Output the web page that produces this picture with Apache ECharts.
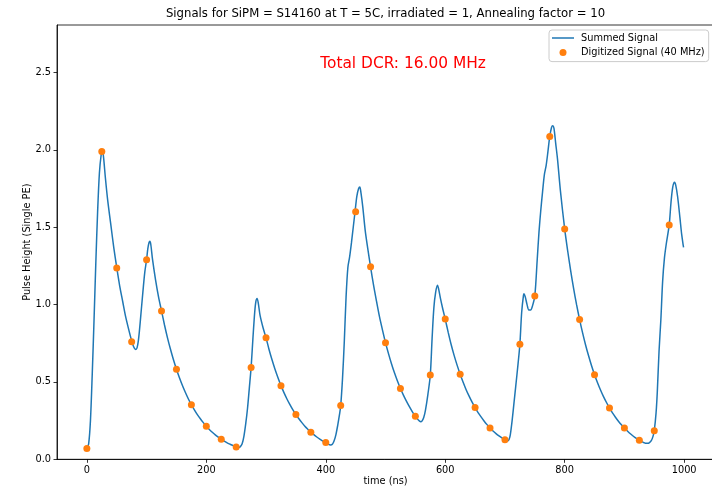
<!DOCTYPE html>
<html>
<head>
<meta charset="utf-8">
<script src="https://cdn.jsdelivr.net/npm/echarts@6/dist/echarts.min.js"></script>
<style>
  html, body { margin: 0; padding: 0; background: #fff; }
  #chart { width: 712px; height: 489px; }
</style>
</head>
<body>
<div id="chart"></div>
<script>
// Summed SiPM signal (ns, single-PE units)
const summedTime = [
  0, 3, 6, 9, 12, 15, 18, 21, 24, 26, 28, 31, 35, 40, 45, 50, 55, 60, 65, 70, 74, 77, 80, 82, 84, 86, 88, 91, 94, 97,
  100, 102, 104, 105.5, 107, 110, 115, 120, 125, 130, 135, 140, 145, 150, 155, 160, 165, 170, 175, 180, 185, 190, 195,
  200, 205, 210, 215, 220, 225, 230, 235, 240, 245, 250, 254, 257, 260, 263, 266, 269, 272, 275, 278, 281, 283, 285,
  287, 290, 295, 300, 305, 310, 315, 320, 325, 330, 335, 340, 345, 350, 355, 360, 365, 370, 375, 380, 385, 390, 395,
  400, 404, 408, 411, 414, 417, 420, 423, 425, 428, 431, 434, 437, 440, 443, 446, 449, 452, 455, 457, 459, 462, 466,
  470, 475, 480, 485, 490, 495, 500, 505, 510, 515, 520, 525, 530, 535, 540, 545, 550, 554, 557, 559, 561, 564, 567,
  571, 575, 578, 581, 584, 587, 589, 592, 596, 600, 605, 610, 615, 620, 625, 630, 635, 640, 645, 650, 655, 660, 665,
  670, 675, 680, 685, 690, 695, 700, 703, 705, 707, 709, 712, 715, 718, 722, 725, 728, 731, 732, 734, 737, 740, 743,
  746, 750, 754, 757, 760, 763, 766, 769, 772, 775, 778, 780, 782, 785, 788, 793, 800, 805, 810, 815, 820, 825, 830,
  835, 840, 845, 850, 855, 860, 865, 870, 875, 880, 885, 890, 895, 900, 905, 910, 915, 920, 925, 929, 933, 936, 939,
  942, 945, 948, 950, 953, 955, 958, 961, 964, 967, 970, 975, 978, 981, 984, 986, 989, 993, 996, 999
];
const summedValue = [
  0.07, 0.10, 0.25, 0.55, 0.90, 1.27, 1.60, 1.85, 1.97, 2.00, 1.95, 1.82, 1.67, 1.52, 1.37, 1.24, 1.12, 1.02, 0.92, 0.84, 0.78, 0.74, 0.715, 0.71, 0.72, 0.76, 0.83, 0.96, 1.09, 1.21,
  1.29, 1.36, 1.40, 1.41, 1.39, 1.29, 1.16, 1.05, 0.959, 0.868, 0.785, 0.711, 0.643, 0.582, 0.527, 0.477, 0.432, 0.39, 0.353, 0.32, 0.289, 0.262, 0.237,
  0.213, 0.193, 0.175, 0.158, 0.143, 0.129, 0.117, 0.106, 0.097, 0.088, 0.080, 0.077, 0.082, 0.10, 0.15, 0.23, 0.33, 0.46, 0.594, 0.78, 0.95, 1.02, 1.04,
  1.01, 0.93, 0.85, 0.785, 0.71, 0.643, 0.582, 0.527, 0.476, 0.431, 0.39, 0.353, 0.319, 0.289, 0.262, 0.237, 0.214, 0.194, 0.175, 0.159, 0.144, 0.130, 0.118,
  0.108, 0.098, 0.093, 0.097, 0.12, 0.16, 0.22, 0.29, 0.347, 0.52, 0.76, 1.05, 1.24, 1.31, 1.40, 1.50, 1.60, 1.70, 1.75, 1.76, 1.72, 1.63, 1.48,
  1.37, 1.244, 1.125, 1.02, 0.92, 0.835, 0.754, 0.683, 0.618, 0.559, 0.506, 0.458, 0.415, 0.376, 0.34, 0.307, 0.278, 0.258, 0.247, 0.243, 0.247, 0.27, 0.32,
  0.42, 0.545, 0.78, 0.98, 1.08, 1.125, 1.10, 1.04, 0.97, 0.906, 0.82, 0.74, 0.67, 0.607, 0.550, 0.498, 0.45, 0.408, 0.369, 0.334, 0.302, 0.274, 0.248,
  0.224, 0.202, 0.183, 0.166, 0.151, 0.138, 0.127, 0.121, 0.12, 0.13, 0.16, 0.25, 0.36, 0.47, 0.62, 0.744, 0.95, 1.06, 1.07, 1.05, 1.00, 0.965, 0.965,
  0.99, 1.056, 1.29, 1.47, 1.61, 1.73, 1.84, 1.90, 1.99, 2.087, 2.145, 2.156, 2.14, 2.04, 1.94, 1.73, 1.489, 1.348, 1.22, 1.103, 0.998, 0.903, 0.817,
  0.739, 0.669, 0.605, 0.547, 0.495, 0.448, 0.405, 0.367, 0.332, 0.30, 0.272, 0.246, 0.223, 0.202, 0.183, 0.165, 0.149, 0.135, 0.123, 0.114, 0.107, 0.103, 0.103,
  0.108, 0.12, 0.15, 0.185, 0.30, 0.43, 0.70, 0.90, 1.15, 1.30, 1.39, 1.515, 1.66, 1.76, 1.79, 1.77, 1.70, 1.56, 1.45, 1.37
];

// 40 MHz digitizer samples (every 25 ns)
const digitizedTime = [
  0, 25, 50, 75, 100, 125, 150, 175, 200, 225, 250, 275, 300, 325, 350, 375, 400, 425, 450, 475,
  500, 525, 550, 575, 600, 625, 650, 675, 700, 725, 750, 775, 800, 825, 850, 875, 900, 925, 950, 975
];
const digitizedValue = [
  0.07, 1.99, 1.237, 0.759, 1.29, 0.959, 0.582, 0.353, 0.213, 0.129, 0.080, 0.594, 0.785, 0.476, 0.289, 0.175, 0.108, 0.347, 1.60, 1.244,
  0.754, 0.458, 0.278, 0.545, 0.906, 0.550, 0.334, 0.202, 0.127, 0.743, 1.056, 2.087, 1.489, 0.903, 0.547, 0.332, 0.202, 0.123, 0.185, 1.515
];

const xTicks = [0, 200, 400, 600, 800, 1000];
const yTicks = [0, 0.5, 1.0, 1.5, 2.0, 2.5];

const FONT = 'DejaVu Sans';

const summedData = summedTime.map((t, i) => [t, summedValue[i]]);
const digitizedData = digitizedTime.map((t, i) => [t, digitizedValue[i]]);

const chart = echarts.init(document.getElementById('chart'), null, { renderer: 'canvas' });

chart.setOption({
  animation: false,
  backgroundColor: '#ffffff',
  textStyle: { fontFamily: FONT },
  title: [
    {
      text: 'Signals for SiPM = S14160 at T = 5C, irradiated = 1, Annealing factor = 10',
      left: 385.5,
      textAlign: 'center',
      top: 8,
      padding: 0,
      textStyle: { fontFamily: FONT, fontSize: 11.7, fontWeight: 'normal', color: '#000' }
    },
    {
      text: 'Total DCR: 16.00 MHz',
      left: 403,
      textAlign: 'center',
      top: 56,
      padding: 0,
      textStyle: { fontFamily: FONT, fontSize: 15.4, fontWeight: 'normal', color: '#ff0000' }
    }
  ],
  legend: {
    orient: 'vertical',
    left: 549,
    top: 30,
    padding: [2, 4, 3, 3],
    itemWidth: 22,
    itemHeight: 7,
    itemGap: 2.6,
    borderColor: '#cccccc',
    borderWidth: 1,
    borderRadius: 3,
    backgroundColor: 'rgba(255,255,255,0.8)',
    textStyle: { fontFamily: FONT, fontSize: 9.8, color: '#000', lineHeight: 12, padding: [0, 0, 0, 2] },
    data: [
      { name: 'Summed Signal', icon: 'path://M0,0 H22 V1.5 H0 Z' },
      { name: 'Digitized Signal (40 MHz)', icon: 'circle' }
    ]
  },
  grid: {
    left: 57,
    right: -2,
    top: 25,
    bottom: 29.7,
    outerBoundsMode: 'none',
    containLabel: false,
    show: true,
    borderColor: '#000',
    borderWidth: 0.8,
    backgroundColor: 'transparent'
  },
  xAxis: {
    type: 'value',
    min: -50,
    max: 1050,
    name: 'time (ns)',
    nameLocation: 'middle',
    nameGap: 17,
    nameMoveOverlap: false,
    nameTextStyle: { fontFamily: FONT, fontSize: 9.8, color: '#000' },
    axisLine: { show: true, onZero: false, lineStyle: { color: '#000', width: 0.8 } },
    axisTick: { show: true, length: 3.5, lineStyle: { color: '#000', width: 0.8 }, customValues: xTicks },
    axisLabel: {
      customValues: xTicks,
      margin: 6,
      fontFamily: FONT,
      fontSize: 9.8,
      color: '#000',
      formatter: v => String(v)
    },
    splitLine: { show: false }
  },
  yAxis: {
    type: 'value',
    min: 0,
    max: 2.807,
    name: 'Pulse Height (Single PE)',
    nameLocation: 'middle',
    nameGap: 25,
    nameMoveOverlap: false,
    nameTextStyle: { fontFamily: FONT, fontSize: 9.8, color: '#000' },
    axisLine: { show: true, onZero: false, lineStyle: { color: '#000', width: 0.8 } },
    axisTick: { show: true, length: 3.5, lineStyle: { color: '#000', width: 0.8 }, customValues: yTicks },
    axisLabel: {
      customValues: yTicks,
      margin: 6,
      fontFamily: FONT,
      fontSize: 9.8,
      color: '#000',
      formatter: v => Number(v).toFixed(1)
    },
    splitLine: { show: false }
  },
  series: [
    {
      name: 'Summed Signal',
      type: 'line',
      data: summedData,
      symbol: 'none',
      smooth: 0.3,
      lineStyle: { color: '#1f77b4', width: 1.5 },
      itemStyle: { color: '#1f77b4' },
      z: 2
    },
    {
      name: 'Digitized Signal (40 MHz)',
      type: 'scatter',
      data: digitizedData,
      symbol: 'circle',
      symbolSize: 7,
      itemStyle: { color: '#ff7f0e', opacity: 1 },
      z: 3
    }
  ]
});
</script>
</body>
</html>
